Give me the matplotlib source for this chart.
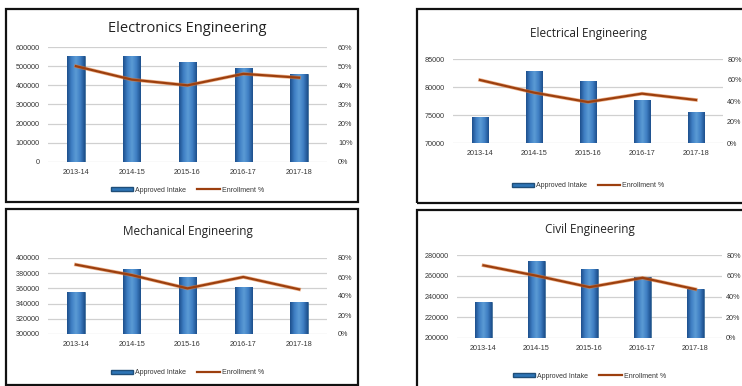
import numpy as np
import matplotlib.pyplot as plt
from matplotlib.colors import LinearSegmentedColormap
from matplotlib.patches import Rectangle
from matplotlib.lines import Line2D
from matplotlib.ticker import FuncFormatter

years = ['2013-14', '2014-15', '2015-16', '2016-17', '2017-18']

electronics_intake = [551000, 555000, 522000, 492000, 459000]
electronics_enroll = [50, 43, 40, 46, 44]

electrical_intake = [74600, 82900, 81000, 77700, 75500]
electrical_enroll = [60, 48, 39, 47, 41]

mechanical_intake = [355000, 386000, 375000, 362000, 342000]
mechanical_enroll = [73, 62, 48, 60, 47]

civil_intake = [235000, 274600, 266600, 259000, 247000]
civil_enroll = [70, 60, 49, 58, 47]

W, H = 742, 386
fig = plt.figure(figsize=(W / 100, H / 100), dpi=100)
fig.patch.set_facecolor('white')

plt.rcParams['font.family'] = ['Liberation Sans Narrow', 'Liberation Sans', 'DejaVu Sans']

bar_cmap = LinearSegmentedColormap.from_list(
    'excel_blue', ['#1d4f8c', '#3f7fc4', '#5b9bd5', '#3f7fc4', '#1d4f8c'])
line_color = '#9c3f0e'
grid_color = '#d0d0d0'
text_color = '#353535'


def px_axes(x0, y0, x1, y1):
    return fig.add_axes([x0 / W, 1 - y1 / H, (x1 - x0) / W, (y1 - y0) / H])


def box(x0, y0, x1, y1):
    fig.patches.append(Rectangle((x0 / W, 1 - y1 / H), (x1 - x0) / W, (y1 - y0) / H,
                                 transform=fig.transFigure, fill=False,
                                 edgecolor='#111111', linewidth=1.6))


def panel(rect, title, title_y, title_size, intake, enroll, yticks, pticks,
          legend_y, right_pad=8):
    x0, y0, x1, y1 = rect
    ax = px_axes(x0, y0, x1, y1)
    x = np.arange(len(years))
    bars = ax.bar(x, intake, width=0.31, color='#2e75b6', edgecolor='#1f4e79',
                  linewidth=0.4, zorder=2)
    # horizontal shading inside each bar
    grad = np.linspace(0, 1, 64).reshape(1, -1)
    for b in bars:
        im = ax.imshow(grad, cmap=bar_cmap, aspect='auto', zorder=2.5,
                       extent=[b.get_x(), b.get_x() + b.get_width(), yticks[0], b.get_height()])
        im.set_clip_path(b)
    ax.set_xlim(-0.5, len(years) - 0.5)
    ax.set_ylim(yticks[0], yticks[-1])
    ax.set_yticks(yticks)
    ax.yaxis.set_major_formatter(FuncFormatter(lambda v, p: '%d' % v))
    ax.set_xticks(x)
    ax.set_xticklabels(years)
    ax.grid(axis='y', color=grid_color, linewidth=0.9, zorder=0)
    ax.set_axisbelow(True)
    for s in ax.spines.values():
        s.set_visible(False)
    ax.tick_params(length=0, labelsize=5.2, colors=text_color, pad=6)
    ax.tick_params(axis='x', pad=5)

    ax2 = ax.twinx()
    ax2.plot(x, enroll, color='#e07b39', linewidth=2.6, alpha=0.6, zorder=3)
    ax2.plot(x, enroll, color=line_color, linewidth=1.6, zorder=4)
    ax2.set_ylim(pticks[0], pticks[-1])
    ax2.set_yticks(pticks)
    ax2.yaxis.set_major_formatter(FuncFormatter(lambda v, p: '%d%%' % v))
    for s in ax2.spines.values():
        s.set_visible(False)
    ax2.tick_params(length=0, labelsize=5.2, colors=text_color, pad=right_pad)

    fig.text(((x0 + x1) / 2) / W, 1 - title_y / H, title, ha='center', va='center',
             fontsize=title_size, color='#222222', family=['Open Sans', 'DejaVu Sans'])

    handles = [Rectangle((0, 0), 1, 1, facecolor='#2e75b6', edgecolor='#1f4e79'),
               Line2D([0], [0], color=line_color, linewidth=1.6)]
    fig.legend(handles, ['Approved Intake', 'Enrollment %'], loc='center',
               bbox_to_anchor=(((x0 + x1) / 2) / W, 1 - legend_y / H), ncol=2,
               frameon=False, fontsize=5, handlelength=3.2, handleheight=0.45,
               columnspacing=1.6, handletextpad=0.3, labelcolor=text_color)
    return ax


box(6, 9, 358, 202)
box(417, 9, 770, 203)
box(6, 209, 358, 385)
box(417, 210, 770, 400)

panel((48, 47, 327, 162), 'Electronics Engineering', 28, 10.5,
      electronics_intake, electronics_enroll,
      [0, 100000, 200000, 300000, 400000, 500000, 600000],
      [0, 10, 20, 30, 40, 50, 60], 190)

panel((453, 59, 723, 143), 'Electrical Engineering', 33, 8.5,
      electrical_intake, electrical_enroll,
      [70000, 75000, 80000, 85000], [0, 20, 40, 60, 80], 186, right_pad=3)

panel((48, 258, 327, 334), 'Mechanical Engineering', 232, 8.5,
      mechanical_intake, mechanical_enroll,
      [300000, 320000, 340000, 360000, 380000, 400000], [0, 20, 40, 60, 80], 373)

panel((457, 255, 722, 338), 'Civil Engineering', 230, 8.5,
      civil_intake, civil_enroll,
      [200000, 220000, 240000, 260000, 280000], [0, 20, 40, 60, 80], 376,
      right_pad=3)

fig.savefig('out.png', dpi=100)
